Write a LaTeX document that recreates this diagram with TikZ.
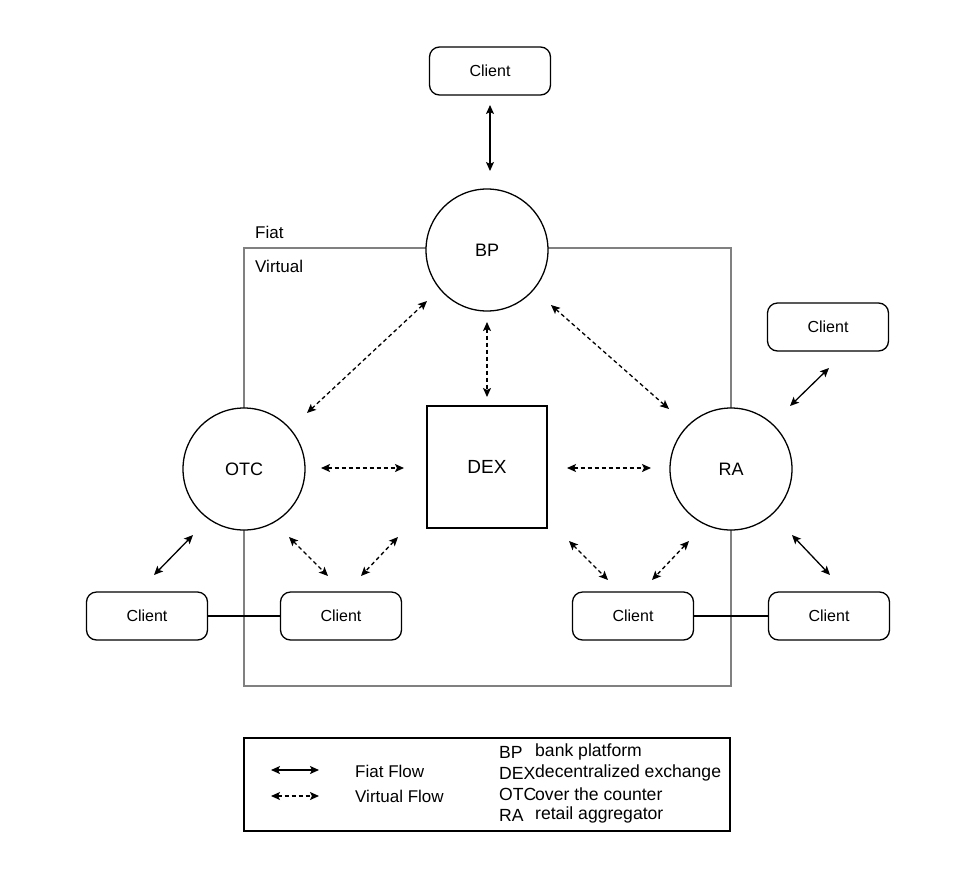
\documentclass[tikz,border=0pt]{standalone}
\usepackage{fontspec}
\setmainfont{Liberation Sans}
\usetikzlibrary{arrows.meta}
\begin{document}
\begin{tikzpicture}[x=1pt,y=-1pt,
  lw/.style={line width=1.3pt},
  client/.style={draw,lw,rounded corners=10pt,minimum width=121pt,minimum height=48pt,inner sep=0pt,font=\fontsize{16}{18}\selectfont,fill=white},
  actor/.style={draw,lw,circle,minimum size=122pt,inner sep=0pt,fill=white,font=\fontsize{18}{20}\selectfont},
  fiat/.style={lw,{Stealth[length=9pt,width=8pt,inset=2pt]}-{Stealth[length=9pt,width=8pt,inset=2pt]}},
  virt/.style={fiat,dash pattern=on 4pt off 3pt},
  lbl/.style={anchor=west,inner sep=0pt,font=\fontsize{17}{19}\selectfont},
  key/.style={anchor=west,inner sep=0pt,font=\fontsize{17.6}{19}\selectfont},
  boxline/.style={line width=1.3pt,draw=black!50}
]
\useasboundingbox (0,0) rectangle (977,879);
% Fiat / Virtual boundary
\draw[boxline] (244,248) rectangle (731,686);
\node[lbl] (fiatlbl) at (255,232) {Fiat};
\node[lbl] (virtlbl) at (255,266) {Virtual};

% links between clients
\node[client] (cl) at (147,616) {Client};
\node[client] (ci) at (341,616) {Client};
\node[client] (cri) at (633,616) {Client};
\node[client] (cro) at (829,616) {Client};
\draw[lw] (cl.east) -- (ci.west);
\draw[lw] (cri.east) -- (cro.west);

% main actors
\node[actor] (bp) at (487,250) {BP};
\node[actor] (otc) at (244,469) {OTC};
\node[actor] (ra) at (731,469) {RA};
\node[draw,lw,minimum width=120pt,minimum height=122pt,inner sep=0pt,fill=white,font=\fontsize{19}{21}\selectfont] (dex) at (487,467) {DEX};
\node[client] (ct) at (490,71) {Client};
\node[client] (crt) at (828,327) {Client};

% arrow endpoints
\coordinate (a1) at (490,105); \coordinate (a2) at (490,171);
\coordinate (b1) at (427,301); \coordinate (b2) at (307,413);
\coordinate (c1) at (487,322); \coordinate (c2) at (487,397);
\coordinate (d1) at (551,305); \coordinate (d2) at (669,409);
\coordinate (e1) at (321,468); \coordinate (e2) at (404,468);
\coordinate (f1) at (567,468); \coordinate (f2) at (651,468);
\coordinate (g1) at (289,537); \coordinate (g2) at (328,576);
\coordinate (h1) at (398,537); \coordinate (h2) at (361,576);
\coordinate (i1) at (569,541); \coordinate (i2) at (608,580);
\coordinate (j1) at (689,541); \coordinate (j2) at (652,580);
\coordinate (k1) at (829,368); \coordinate (k2) at (790,406);
\coordinate (l1) at (193,535); \coordinate (l2) at (154,575);
\coordinate (m1) at (792,535); \coordinate (m2) at (830,575);

\draw[fiat] (a1) -- (a2);
\draw[virt] (b1) -- (b2);
\draw[virt] (c1) -- (c2);
\draw[virt] (d1) -- (d2);
\draw[virt] (e1) -- (e2);
\draw[virt] (f1) -- (f2);
\draw[virt] (g1) -- (g2);
\draw[virt] (h1) -- (h2);
\draw[virt] (i1) -- (i2);
\draw[virt] (j1) -- (j2);
\draw[fiat] (k1) -- (k2);
\draw[fiat] (l1) -- (l2);
\draw[fiat] (m1) -- (m2);

% legend
\draw[lw] (244,738) rectangle (730,831);
\coordinate (lf1) at (271,770); \coordinate (lf2) at (319,770);
\coordinate (lv1) at (271,796); \coordinate (lv2) at (319,796);
\draw[fiat] (lf1) -- (lf2);
\draw[virt] (lv1) -- (lv2);
\node[lbl] (lfiat) at (355,771) {Fiat Flow};
\node[lbl] (lvirt) at (355,796) {Virtual Flow};
\node[key] (k1a) at (499,752) {BP};
\node[key] (k1b) at (535,752) {bank platform};
\node[key] (k2a) at (499,773) {DEX};
\node[key] (k2b) at (535,773) {decentralized exchange};
\node[key] (k3a) at (499,794) {OTC};
\node[key] (k3b) at (535,794) {over the counter};
\node[key] (k4a) at (499,815) {RA};
\node[key] (k4b) at (535,815) {retail aggregator};
\end{tikzpicture}
\end{document}
